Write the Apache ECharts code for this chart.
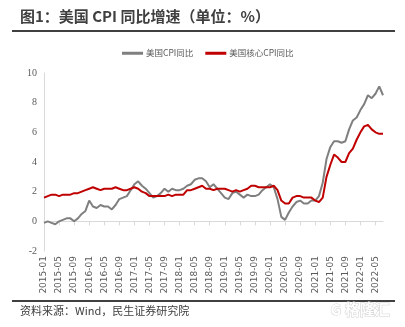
<!DOCTYPE html>
<html>
<head>
<meta charset="utf-8">
<script src="https://cdn.jsdelivr.net/npm/echarts@6/dist/echarts.min.js"></script>
<style>
html,body{margin:0;padding:0;background:#fff;}
#c{width:405px;height:327px;}
</style>
</head>
<body>
<div id="c"></div>
<script>
// Categories: monthly, 2015-01 to 2022-07
const years = [2015, 2016, 2017, 2018, 2019, 2020, 2021, 2022];
const months = ['01','02','03','04','05','06','07','08','09','10','11','12'];
const categories = [];
years.forEach(y => months.forEach(m => { if (!(y === 2022 && +m > 7)) categories.push(y + '-' + m); }));

const seriesNames = ['美国CPI同比', '美国核心CPI同比'];

const cpi = [
  -0.1, 0.0, -0.1, -0.2, 0.0, 0.1, 0.2, 0.2, 0.0, 0.2, 0.5, 0.7,
  1.4, 1.0, 0.9, 1.1, 1.0, 1.0, 0.8, 1.1, 1.5, 1.6, 1.7, 2.1,
  2.5, 2.7, 2.4, 2.2, 1.9, 1.6, 1.7, 1.9, 2.2, 2.0, 2.2, 2.1,
  2.1, 2.2, 2.4, 2.5, 2.8, 2.9, 2.9, 2.7, 2.3, 2.5, 2.2, 1.9,
  1.6, 1.5, 1.9, 2.0, 1.8, 1.6, 1.8, 1.7, 1.7, 1.8, 2.1, 2.3,
  2.5, 2.3, 1.5, 0.3, 0.1, 0.6, 1.0, 1.3, 1.4, 1.2, 1.2, 1.4,
  1.4, 1.7, 2.6, 4.2, 5.0, 5.4, 5.4, 5.3, 5.4, 6.2, 6.8, 7.0,
  7.5, 7.9, 8.5, 8.3, 8.6, 9.1, 8.5
];

const coreCpi = [
  1.6, 1.7, 1.8, 1.8, 1.7, 1.8, 1.8, 1.8, 1.9, 1.9, 2.0, 2.1,
  2.2, 2.3, 2.2, 2.1, 2.2, 2.2, 2.2, 2.3, 2.2, 2.1, 2.1, 2.2,
  2.3, 2.2, 2.0, 1.9, 1.7, 1.7, 1.7, 1.7, 1.7, 1.8, 1.7, 1.8,
  1.8, 1.8, 2.1, 2.1, 2.2, 2.3, 2.4, 2.2, 2.2, 2.1, 2.2, 2.2,
  2.2, 2.1, 2.0, 2.1, 2.0, 2.1, 2.2, 2.4, 2.4, 2.3, 2.3, 2.3,
  2.3, 2.4, 2.1, 1.4, 1.2, 1.2, 1.6, 1.7, 1.7, 1.6, 1.6, 1.6,
  1.4, 1.3, 1.6, 3.0, 3.8, 4.5, 4.3, 4.0, 4.0, 4.6, 4.9, 5.5,
  6.0, 6.4, 6.5, 6.2, 6.0, 5.9, 5.9
];

const yTicks = [-2, 0, 2, 4, 6, 8, 10];

const titleText = '图1：美国 CPI 同比增速（单位：%）';
const sourceText = '资料来源：Wind，民生证券研究院';

const chart = echarts.init(document.getElementById('c'), null, {renderer: 'canvas'});
chart.setOption({
  animation: false,
  backgroundColor: '#fff',
  textStyle: {fontFamily: '"Noto Sans CJK SC", "Noto Sans", sans-serif'},
  grid: {left: 44, right: 22, top: 73, bottom: 76, containLabel: false},
  legend: {
    data: seriesNames,
    left: 117, top: 44,
    itemWidth: 21, itemHeight: 3, itemGap: 12,
    icon: 'rect',
    textStyle: {fontSize: 8.5, color: '#595959', fontFamily: '"Noto Sans CJK SC", serif', padding: [0,0,0,-2]}
  },
  xAxis: [{
    type: 'category',
    data: categories,
    boundaryGap: false,
    position: 'bottom',
    axisLine: {show: false, onZero: false},
    axisTick: {show: false},
    axisLabel: {
      interval: 3, rotate: 90, fontSize: 9, color: '#595959', margin: 5,
      fontFamily: '"DejaVu Sans", sans-serif'
    },
    splitLine: {show: false}
  }, {
    type: 'category',
    data: categories,
    boundaryGap: false,
    position: 'bottom',
    axisLine: {show: true, onZero: true, lineStyle: {color: '#d9d9d9', width: 1}},
    axisTick: {show: true, interval: 3, length: 4, lineStyle: {color: '#d9d9d9'}},
    axisLabel: {show: false},
    splitLine: {show: false}
  }],
  yAxis: {
    type: 'value',
    min: yTicks[0], max: yTicks[yTicks.length - 1], interval: 2,
    axisLine: {show: true, lineStyle: {color: '#d9d9d9', width: 1}},
    axisTick: {show: false},
    splitLine: {show: false},
    axisLabel: {fontSize: 10, color: '#595959', margin: 7, fontFamily: '"Liberation Serif", serif'}
  },
  series: [{
    name: seriesNames[0], type: 'line', data: cpi, xAxisIndex: 0,
    showSymbol: false, symbol: 'none',
    lineStyle: {color: '#7f7f7f', width: 2}, itemStyle: {color: '#7f7f7f'}
  }, {
    name: seriesNames[1], type: 'line', data: coreCpi, xAxisIndex: 0,
    showSymbol: false, symbol: 'none',
    lineStyle: {color: '#c00000', width: 2}, itemStyle: {color: '#c00000'}
  }],
  graphic: [
    {type: 'text', left: 20, top: 9, style: {text: titleText, font: 'bold 15px "Noto Sans CJK SC", sans-serif', fill: '#404040'}},
    {type: 'rect', shape: {x: 12, y: 30, width: 383, height: 2}, style: {fill: '#404040'}},
    {type: 'rect', shape: {x: 12, y: 300, width: 383, height: 2}, style: {fill: '#404040'}},
    {type: 'text', left: 20, top: 305, style: {text: sourceText, font: '11px "Noto Sans CJK SC", sans-serif', fill: '#404040'}},
    {type: 'text', left: 330, top: 301, style: {text: 'G 格隆汇', font: 'bold 15px "Noto Sans CJK SC", sans-serif', fill: '#fff', stroke: '#d0d0d0', lineWidth: 1}}
  ]
});
</script>
</body>
</html>
